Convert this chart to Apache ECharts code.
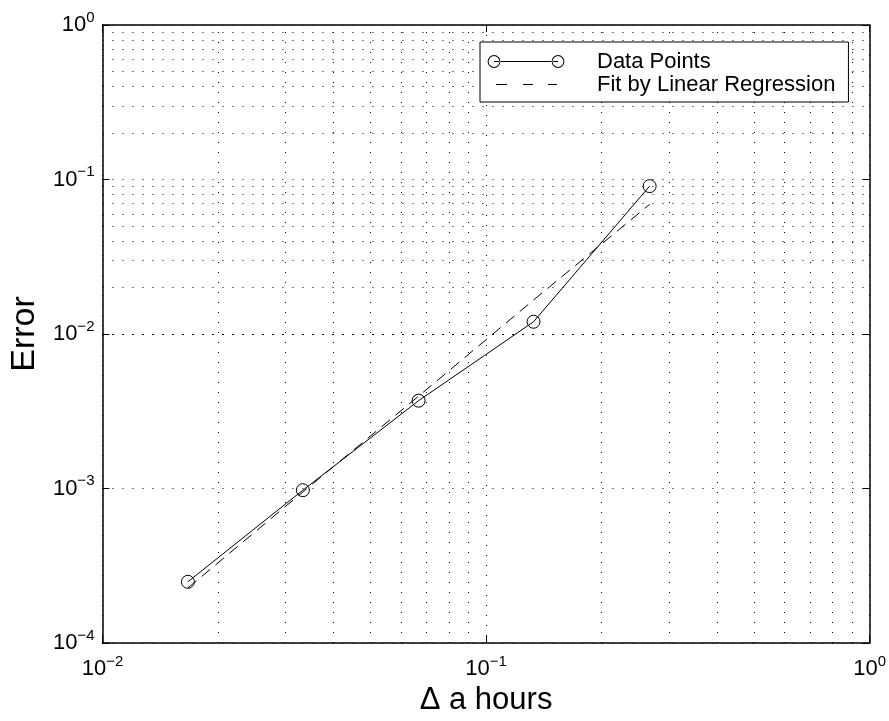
<!DOCTYPE html>
<html>
<head>
<meta charset="utf-8">
<script src="https://cdn.jsdelivr.net/npm/echarts@6/dist/echarts.min.js"></script>
<style>html,body{margin:0;padding:0;background:#fff;}#c{width:889px;height:721px;}</style>
</head>
<body>
<div id="c"></div>
<script>
// ---- data ----
var stepHours = [0.0167, 0.0333, 0.0667, 0.133, 0.267];
var errorData = [2.49e-4, 9.75e-4, 3.70e-3, 1.20e-2, 9.06e-2];
var errorFit  = [2.27e-4, 9.5e-4, 3.96e-3, 1.66e-2, 6.9e-2];
var xTickExps = [-2, -1, 0];
var yTickExps = [-4, -3, -2, -1, 0];
var seriesNames = ['Data Points', 'Fit by Linear Regression'];
var xTitle = '\u0394 a hours';
var yTitle = 'Error';
var minorMult = [2, 3, 4, 5, 6, 7, 8, 9];

var FONT = '"Liberation Sans", Arial, Helvetica, sans-serif';

function pairs(xs, ys) { return xs.map(function (x, i) { return [x, ys[i]]; }); }
function expLabel(v) {
  var e = Math.round(Math.log10(v));
  var s = (e < 0 ? '\u2212' + (-e) : '' + e);
  return '{b|10}{s|' + s + '}';
}
var labelRich = {
  b: { fontSize: 22, fontFamily: FONT, color: '#000', lineHeight: 30 },
  s: { fontSize: 15, fontFamily: FONT, color: '#000', lineHeight: 15, verticalAlign: 'top' }
};

// minor grid positions (values on the axes)
var gridLines = [];
xTickExps.slice(0, -1).forEach(function (e) {
  minorMult.forEach(function (m) { gridLines.push({ xAxis: m * Math.pow(10, e) }); });
});
yTickExps.slice(0, -1).forEach(function (e) {
  minorMult.forEach(function (m) { gridLines.push({ yAxis: m * Math.pow(10, e) }); });
});

var dotted = { color: '#000', width: 1, type: [1, 9] };

var iconData = 'path://M0,0 L0.01,0 M105,14 L104.99,14 ' +
  'M0.6,7 A6.4,6.4 0 1,0 13.4,7 A6.4,6.4 0 1,0 0.6,7 Z ' +
  'M1.6,7 A5.4,5.4 0 1,1 12.4,7 A5.4,5.4 0 1,1 1.6,7 Z ' +
  'M64.6,7 A6.4,6.4 0 1,0 77.4,7 A6.4,6.4 0 1,0 64.6,7 Z ' +
  'M65.6,7 A5.4,5.4 0 1,1 76.4,7 A5.4,5.4 0 1,1 65.6,7 Z ' +
  'M7,6.5 L71,6.5 L71,7.5 L7,7.5 Z';
var iconFit = 'path://M0,0 L0.01,0 M105,14 L104.99,14 ' +
  'M9,6.5 L20,6.5 L20,7.5 L9,7.5 Z ' +
  'M36,6.5 L46,6.5 L46,7.5 L36,7.5 Z ' +
  'M61,6.5 L70,6.5 L70,7.5 L61,7.5 Z';

function xAxisDef(pos, showLabel) {
  return {
    type: 'log', logBase: 10, min: 0.01, max: 1, interval: 1, position: pos,
    axisLine: { show: true, onZero: false, lineStyle: { color: '#000', width: 1.5 } },
    axisTick: { show: true, inside: true, length: 7, lineStyle: { color: '#000', width: 1 } },
    axisLabel: { show: showLabel, margin: 11, formatter: expLabel, rich: labelRich },
    splitLine: { show: showLabel, lineStyle: dotted },
    name: showLabel ? xTitle : '', nameLocation: 'middle', nameGap: 42,
    nameTextStyle: { fontSize: 31, fontFamily: FONT, color: '#000' }
  };
}
function yAxisDef(pos, showLabel) {
  return {
    type: 'log', logBase: 10, min: 0.0001, max: 1, interval: 1, position: pos,
    axisLine: { show: true, onZero: false, lineStyle: { color: '#000', width: 1.5 } },
    axisTick: { show: true, inside: true, length: 7, lineStyle: { color: '#000', width: 1 } },
    axisLabel: { show: showLabel, margin: 8, formatter: expLabel, rich: labelRich },
    splitLine: { show: showLabel, lineStyle: dotted },
    name: showLabel ? yTitle : '', nameLocation: 'middle', nameGap: 58,
    nameTextStyle: { fontSize: 34, fontFamily: FONT, color: '#000' }
  };
}

var chart = echarts.init(document.getElementById('c'), null, { renderer: 'canvas' });
chart.setOption({
  backgroundColor: '#fff',
  animation: false,
  grid: { left: 98, right: 19, top: 25, bottom: 75, containLabel: false },
  xAxis: [xAxisDef('bottom', true), xAxisDef('top', false)],
  yAxis: [yAxisDef('left', true), yAxisDef('right', false)],
  legend: {
    left: 480, top: 42, orient: 'vertical',
    backgroundColor: '#fff', borderColor: '#000', borderWidth: 1,
    padding: [8, 13, 6, 7],
    itemWidth: 105, itemHeight: 14, itemGap: 0,
    textStyle: { fontSize: 22, fontFamily: FONT, color: '#000', lineHeight: 23, padding: [0, 0, 0, 0] },
    itemStyle: { color: '#000', borderWidth: 0 },
    data: [{ name: seriesNames[0], icon: iconData }, { name: seriesNames[1], icon: iconFit }]
  },
  series: [
    {
      name: 'grid', type: 'line', data: [], silent: true, z: 1,
      markLine: { silent: true, symbol: ['none', 'none'], label: { show: false }, z: 1,
        lineStyle: dotted, emphasis: { disabled: true }, data: gridLines }
    },
    {
      name: seriesNames[1], type: 'line', data: pairs(stepHours, errorFit), z: 3,
      symbol: 'none', lineStyle: { color: '#000', width: 1, type: [11, 7] },
      itemStyle: { color: '#000' }
    },
    {
      name: seriesNames[0], type: 'line', data: pairs(stepHours, errorData), z: 4,
      symbol: 'circle', symbolSize: 13,
      lineStyle: { color: '#000', width: 1 },
      itemStyle: { color: 'rgba(0,0,0,0)', borderColor: '#000', borderWidth: 1 }
    }
  ]
});
</script>
</body>
</html>
